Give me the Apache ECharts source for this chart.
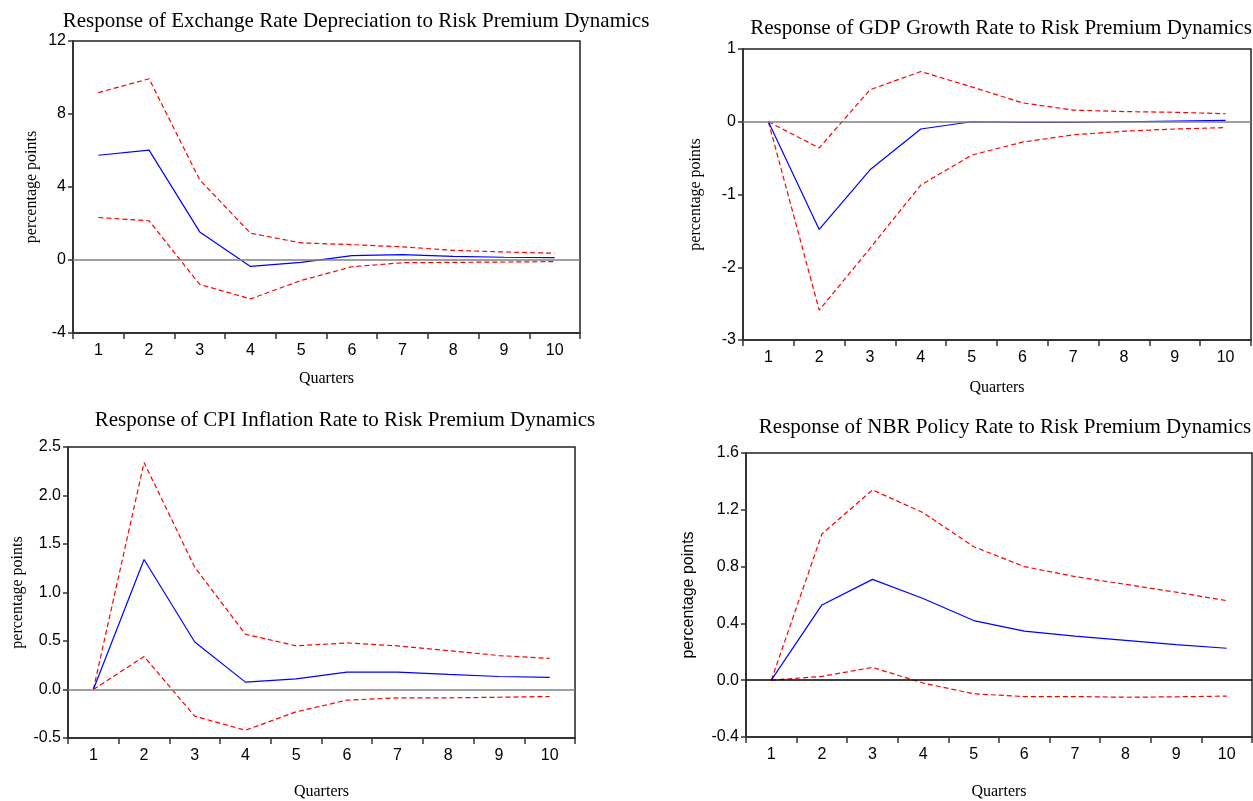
<!DOCTYPE html>
<html>
<head>
<meta charset="utf-8">
<script src="https://cdn.jsdelivr.net/npm/echarts@6/dist/echarts.min.js"></script>
<style>
  html, body { margin: 0; padding: 0; background: #fff; }
  #main { width: 1253px; height: 801px; }
</style>
</head>
<body>
<div id="main"></div>
<script>
var quarters = ['1', '2', '3', '4', '5', '6', '7', '8', '9', '10'];

// exchange rate depreciation
var exrResp  = [5.74, 6.02, 1.54, -0.35, -0.13, 0.24, 0.29, 0.20, 0.15, 0.13];
var exrUpper = [9.17, 9.93, 4.39, 1.47, 0.94, 0.84, 0.72, 0.53, 0.44, 0.37];
var exrLower = [2.33, 2.15, -1.34, -2.13, -1.12, -0.37, -0.15, -0.13, -0.11, -0.09];

// gdp growth
var gdpResp  = [0, -1.48, -0.66, -0.10, 0.00, -0.01, -0.01, 0.00, 0.01, 0.02];
var gdpUpper = [0, -0.36, 0.44, 0.69, 0.48, 0.26, 0.16, 0.14, 0.13, 0.11];
var gdpLower = [0, -2.59, -1.74, -0.87, -0.46, -0.28, -0.18, -0.13, -0.10, -0.08];

// cpi inflation
var cpiResp  = [0, 1.34, 0.49, 0.076, 0.11, 0.18, 0.18, 0.155, 0.134, 0.124];
var cpiUpper = [0, 2.34, 1.26, 0.57, 0.45, 0.48, 0.45, 0.40, 0.35, 0.32];
var cpiLower = [0, 0.34, -0.275, -0.42, -0.23, -0.11, -0.086, -0.086, -0.08, -0.072];

// nbr policy rate
var nbrResp  = [0, 0.53, 0.71, 0.575, 0.42, 0.346, 0.31, 0.28, 0.25, 0.225];
var nbrUpper = [0, 1.03, 1.34, 1.18, 0.94, 0.80, 0.73, 0.675, 0.62, 0.56];
var nbrLower = [0, 0.027, 0.09, -0.02, -0.096, -0.115, -0.115, -0.12, -0.117, -0.112];

var titles = [
  'Response of Exchange Rate Depreciation to Risk Premium Dynamics',
  'Response of GDP Growth Rate to Risk Premium Dynamics',
  'Response of CPI Inflation Rate to Risk Premium Dynamics',
  'Response of NBR Policy Rate to Risk Premium Dynamics'
];

var serif = '"Liberation Serif", "Times New Roman", serif';
var sans = '"Liberation Sans", Arial, sans-serif';

var chart = echarts.init(document.getElementById('main'));

// panel layout
var panels = [
  { left: 73,  top: 41,  width: 507, height: 292, min: -4,   max: 12,  interval: 4,   dec: 0, yGap: 33, xGap: 38, yFont: serif, zero: '#808080',
    titleX: 351, titleY: 6,   resp: exrResp, up: exrUpper, lo: exrLower },
  { left: 743, top: 49,  width: 508, height: 291, min: -3,   max: 1,   interval: 1,   dec: 0, yGap: 39, xGap: 40, yFont: serif, zero: '#808080',
    titleX: 996, titleY: 13,  resp: gdpResp, up: gdpUpper, lo: gdpLower },
  { left: 68,  top: 447, width: 507, height: 291, min: -0.5, max: 2.5, interval: 0.5, dec: 1, yGap: 42, xGap: 46, yFont: serif, zero: '#808080',
    titleX: 340, titleY: 405, resp: cpiResp, up: cpiUpper, lo: cpiLower },
  { left: 746, top: 453, width: 506, height: 290, min: -0.4, max: 1.6, interval: 0.4, dec: 1, yGap: 49, xGap: 47, yFont: sans,  zero: '#000000',
    titleX: 1000, titleY: 412, resp: nbrResp, up: nbrUpper, lo: nbrLower }
];

var option = {
  backgroundColor: '#fff',
  animation: false,
  title: [], grid: [], xAxis: [], yAxis: [], series: []
};

panels.forEach(function (p, i) {
  option.title.push({
    text: titles[i],
    left: p.titleX, top: p.titleY,
    textAlign: 'center',
    textStyle: { fontFamily: serif, fontSize: 21, fontWeight: 'normal', color: '#000' }
  });
  option.grid.push({
    left: p.left, top: p.top, width: p.width, height: p.height,
    show: true, borderColor: '#222', borderWidth: 1.5, containLabel: false
  });
  option.xAxis.push({
    type: 'category', gridIndex: i, data: quarters, boundaryGap: true,
    name: 'Quarters', nameLocation: 'middle', nameGap: p.xGap,
    nameTextStyle: { fontFamily: serif, fontSize: 16, color: '#000' },
    axisLine: { onZero: false, lineStyle: { color: '#333', width: 2 } },
    axisTick: { show: true, inside: false, length: 6, alignWithLabel: false, lineStyle: { color: '#333', width: 1.5 } },
    axisLabel: { fontFamily: sans, fontSize: 16, color: '#000', margin: 10 },
    splitLine: { show: false }
  });
  option.yAxis.push({
    type: 'value', gridIndex: i, min: p.min, max: p.max, interval: p.interval,
    name: 'percentage points', nameLocation: 'middle', nameGap: p.yGap,
    nameTextStyle: { fontFamily: p.yFont, fontSize: 16, color: '#000' },
    axisLine: { show: true, lineStyle: { color: '#333', width: 2 } },
    axisTick: { show: true, inside: false, length: 5, lineStyle: { color: '#333', width: 1.5 } },
    axisLabel: {
      fontFamily: sans, fontSize: 16, color: '#000', margin: 7,
      formatter: function (v) { return v.toFixed(p.dec); }
    },
    splitLine: { show: false }
  });
  option.series.push({
    type: 'line', xAxisIndex: i, yAxisIndex: i, data: p.resp,
    symbol: 'none', lineStyle: { color: '#0000ff', width: 1.2 },
    markLine: {
      silent: true, symbol: 'none', label: { show: false },
      lineStyle: { color: p.zero, type: 'solid', width: 1.5 },
      data: [{ yAxis: 0 }]
    },
    z: 3
  });
  option.series.push({
    type: 'line', xAxisIndex: i, yAxisIndex: i, data: p.up,
    symbol: 'none', lineStyle: { color: '#ff0000', width: 1.2, type: [5, 3] }, z: 2
  });
  option.series.push({
    type: 'line', xAxisIndex: i, yAxisIndex: i, data: p.lo,
    symbol: 'none', lineStyle: { color: '#ff0000', width: 1.2, type: [5, 3] }, z: 2
  });
});

chart.setOption(option);
window.onresize = chart.resize;
</script>
</body>
</html>
